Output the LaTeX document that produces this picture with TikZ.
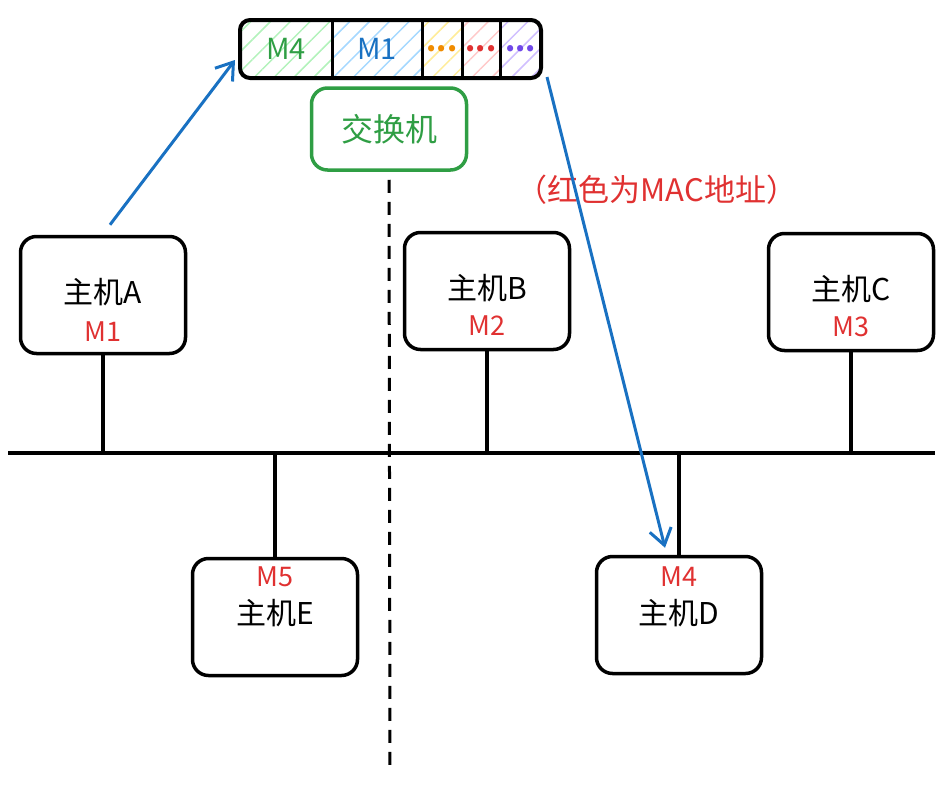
\documentclass[tikz,border=0pt]{standalone}
\usepackage{fontspec}
\setmainfont{Noto Sans CJK SC}
\usetikzlibrary{calc,positioning,chains,fit,patterns.meta,arrows.meta}
\definecolor{mblue}{HTML}{1971C2}
\definecolor{mgreen}{HTML}{2F9E44}
\definecolor{mred}{HTML}{E03131}
\definecolor{morange}{HTML}{F08C00}
\definecolor{mviolet}{HTML}{7048E8}
\definecolor{hgreen}{HTML}{B2F2BB}
\definecolor{hblue}{HTML}{A5D8FF}
\definecolor{hyellow}{HTML}{FFEC99}
\definecolor{hred}{HTML}{FFC9C9}
\definecolor{hviolet}{HTML}{D0BFFF}

\begin{document}
\begin{tikzpicture}[x=1pt, y=-1pt,
    host/.style={draw, line width=3.5pt, rounded corners=16pt,
      minimum width=165pt, minimum height=117pt},
    hostname/.style={font=\fontsize{30}{34}\selectfont},
    addr/.style={text=mred, font=\fontsize{27}{30}\selectfont},
    cell/.style={on chain, minimum height=58pt,
      inner sep=0pt, outer sep=0pt, font=\fontsize{29}{32}\selectfont},
    hatch/.style={pattern={Lines[angle=45,distance=14pt,line width=1.5pt]},
      pattern color=#1},
    wire/.style={line width=4.5pt},
    flow/.style={->, mblue, line width=3pt},
    >={Straight Barb[length=16pt,width=22pt]},
    start chain, node distance=0pt]
    \useasboundingbox (0,0) rectangle (950,787);
    % frame of the packet
    \node[cell, minimum width=92pt, hatch=hgreen, text=mgreen] (F1) at (286,49) {M4};
    \node[cell, minimum width=90pt, hatch=hblue, text=mblue] (F2) {M1};
    \node[cell, minimum width=40pt, hatch=hyellow, text=morange] (F3) {\textbf{...}};
    \node[cell, minimum width=38pt, hatch=hred, text=mred] (F4) {\textbf{...}};
    \node[cell, minimum width=41pt, hatch=hviolet, text=mviolet] (F5) {\textbf{...}};
    \node[draw, line width=4pt, rounded corners=10pt, inner sep=0pt, fit=(F1)(F5)] (F) {};
    \draw[line width=3pt] (F1.north east) -- (F1.south east);
    \draw[line width=3pt] (F2.north east) -- (F2.south east);
    \draw[line width=3pt] (F3.north east) -- (F3.south east);
    \draw[line width=3pt] (F4.north east) -- (F4.south east);
    % switch
    \node[draw=mgreen, text=mgreen, line width=3.5pt, rounded corners=16pt,
      minimum width=155pt, minimum height=82pt,
      font=\fontsize{32}{36}\selectfont] (S) at (389,129) {交换机};
    \coordinate (Send) at (390,770);
    \draw[line width=3pt, dash pattern=on 13pt off 9pt] ($(S.south)+(0,8)$) -- (Send);
    \node[text=mred, font=\fontsize{31}{34}\selectfont] (N) at (657,190) {（红色为MAC地址）};
    % bus
    \coordinate (L1) at (8,453);
    \coordinate (L2) at (935,453);
    \draw[wire] (L1) -- (L2);
    % hosts
    \node[host] (A) at (103,295) {};
    \node[hostname] (An) at ($(A)+(0,-3)$) {主机A};
    \node[addr] (Am) at ($(A)+(0,37)$) {M1};
    \node[host] (B) at (487,291) {};
    \node[hostname] (Bn) at ($(B)+(0,-3)$) {主机B};
    \node[addr] (Bm) at ($(B)+(0,35)$) {M2};
    \node[host] (C) at (851,292) {};
    \node[hostname] (Cn) at ($(C)+(0,-3)$) {主机C};
    \node[addr] (Cm) at ($(C)+(0,35)$) {M3};
    \node[host] (E) at (275,617) {};
    \node[addr] (Em) at ($(E)+(0,-40)$) {M5};
    \node[hostname] (En) at ($(E)+(0,-4)$) {主机E};
    \node[host] (D) at (679,615) {};
    \node[addr] (Dm) at ($(D)+(0,-38)$) {M4};
    \node[hostname] (Dn) at ($(D)+(0,-2)$) {主机D};
    \draw[wire] (A.south) -- (A.south |- L1);
    \draw[wire] (B.south) -- (B.south |- L1);
    \draw[wire] (C.south) -- (C.south |- L1);
    \draw[wire] (E.north) -- (E.north |- L1);
    \draw[wire] (D.north) -- (D.north |- L1);
    % data flow
    \draw[flow] ($(A.north)+(7,-10)$) -- ($(F.west)+(-3,11)$);
    \draw[flow] ($(F.south east)+(4,-3)$) -- ($(D.north)+(-14,-7)$);
\end{tikzpicture}
\end{document}
